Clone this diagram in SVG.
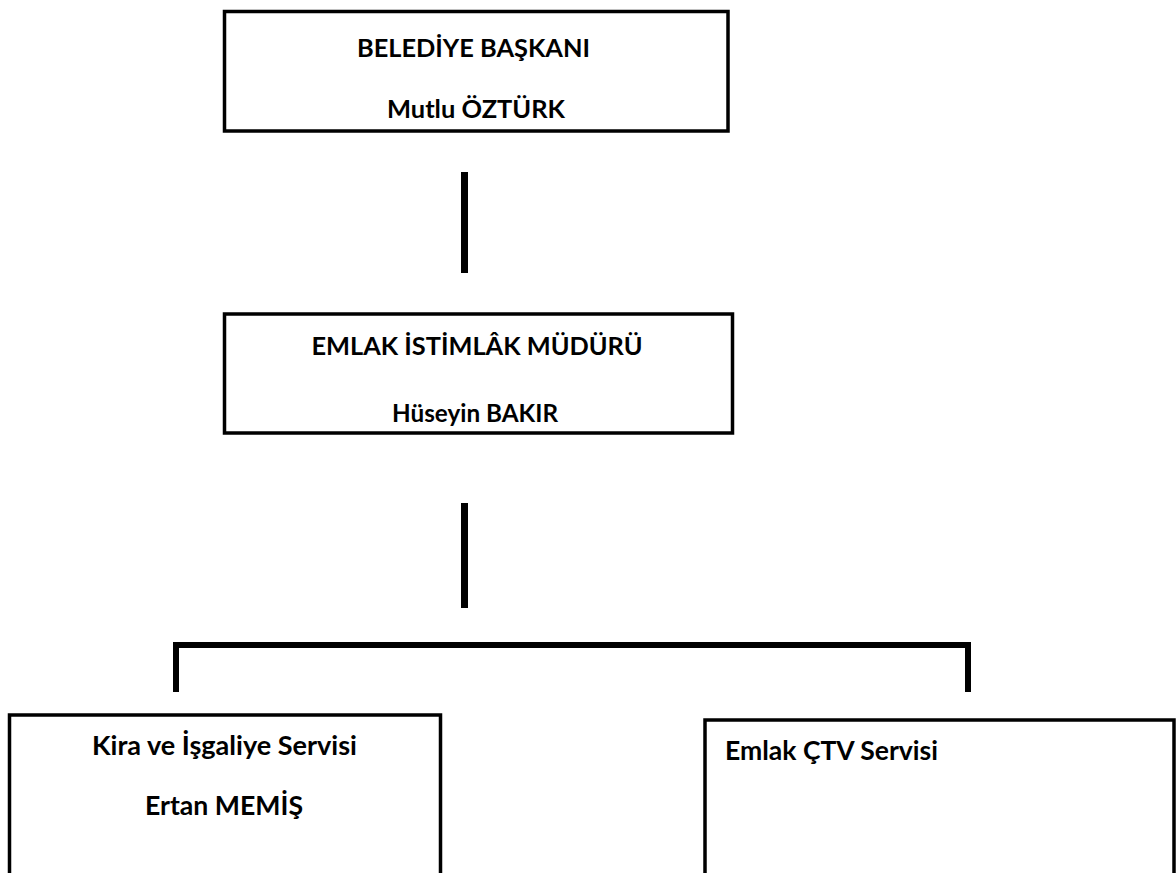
<svg xmlns="http://www.w3.org/2000/svg" width="1176" height="873" viewBox="0 0 1176 873">
<style>
.box{fill:#fff;stroke:#000;stroke-width:3.5}
.t{font-family:Lato,"Open Sans","Liberation Sans",sans-serif;font-weight:bold;font-size:25.4px;fill:#000}
.s{font-size:26.8px}
.c{text-anchor:middle}
.ln{stroke:#000;fill:none}
</style>
<rect width="1176" height="873" fill="#fff"/>
<g id="connectors">
<line class="ln" x1="464.5" y1="172" x2="464.5" y2="273" stroke-width="7"/>
<line class="ln" x1="464.5" y1="503" x2="464.5" y2="608" stroke-width="7"/>
<polyline class="ln" points="176,692 176,645 968,645 968,692" stroke-width="6"/>
</g>
<g id="baskan">
<rect class="box" x="224.5" y="11.5" width="503.5" height="119.5"/>
<text class="t c" x="473.5" y="57" textLength="233" lengthAdjust="spacingAndGlyphs">BELEDİYE BAŞKANI</text>
<text class="t c" x="476" y="118" textLength="178" lengthAdjust="spacingAndGlyphs">Mutlu ÖZTÜRK</text>
</g>
<g id="mudur">
<rect class="box" x="224.5" y="314" width="508" height="119"/>
<text class="t c" x="477" y="355" textLength="331" lengthAdjust="spacingAndGlyphs">EMLAK İSTİMLÂK MÜDÜRÜ</text>
<text class="t c" x="475" y="422" textLength="166" lengthAdjust="spacingAndGlyphs">Hüseyin BAKIR</text>
</g>
<g id="kira">
<rect class="box" x="9.5" y="715" width="431" height="180"/>
<text class="t s c" x="224.5" y="755" textLength="265" lengthAdjust="spacingAndGlyphs">Kira ve İşgaliye Servisi</text>
<text class="t s c" x="224" y="815" textLength="158" lengthAdjust="spacingAndGlyphs">Ertan MEMİŞ</text>
</g>
<g id="ctv">
<rect class="box" x="705" y="720" width="469" height="180"/>
<text class="t s" x="725" y="760" textLength="213" lengthAdjust="spacingAndGlyphs">Emlak ÇTV Servisi</text>
</g>
</svg>
